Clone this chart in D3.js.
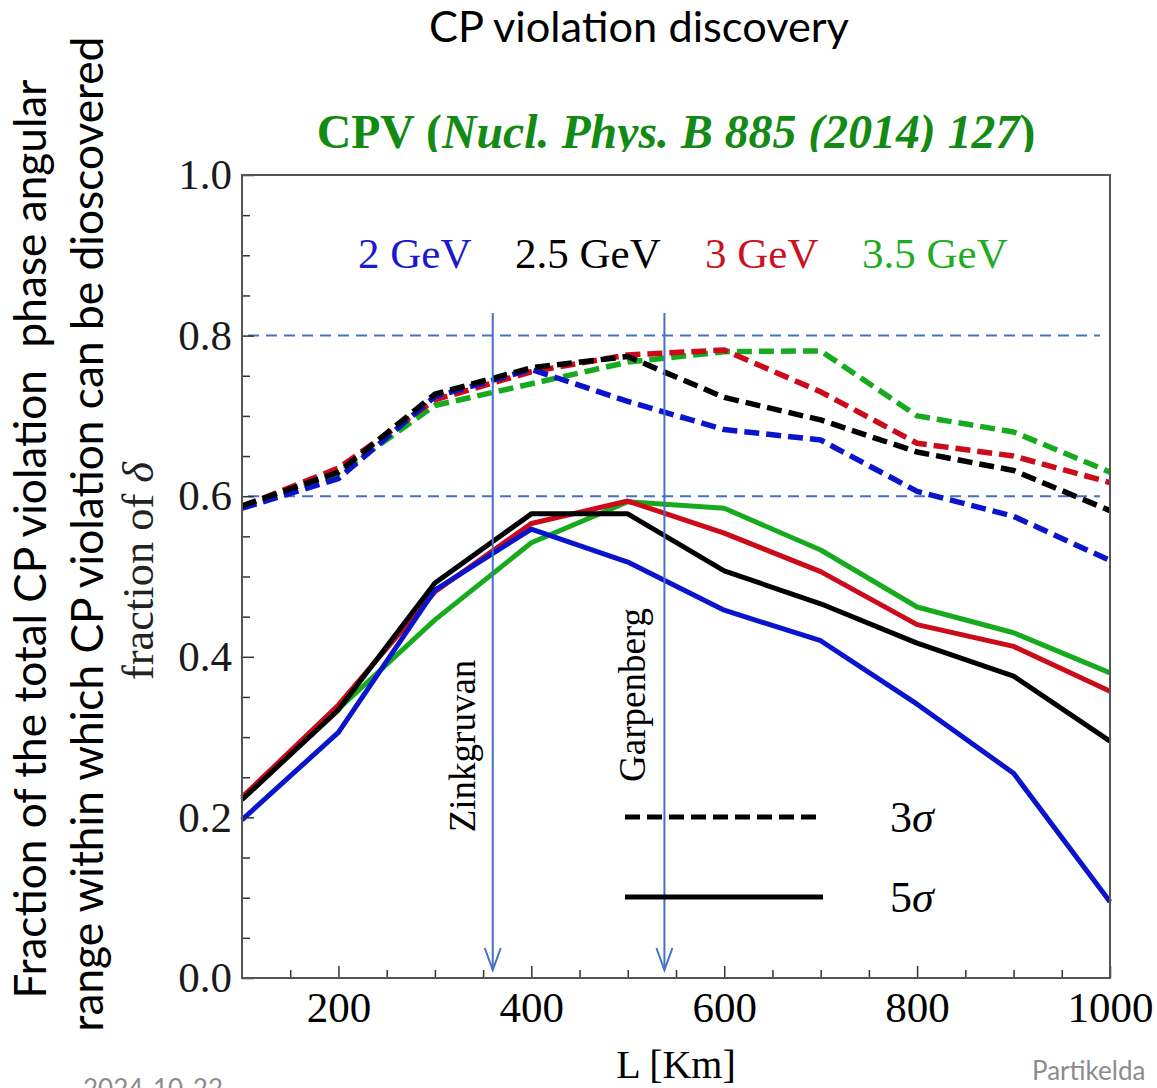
<!DOCTYPE html>
<html>
<head>
<meta charset="utf-8">
<script src="https://cdn.jsdelivr.net/npm/d3@7"></script>
<style>
  body { margin: 0; background: #fff; overflow: hidden; }
  svg { display: block; }
</style>
</head>
<body>
<div id="chart"></div>
<script>
// baseline length L in km
const distances = [100, 200, 300, 400, 500, 600, 700, 800, 900, 1000];

// energy labels of the curves
const energies = ["2 GeV", "2.5 GeV", "3 GeV", "3.5 GeV"];

// fraction of delta, 3 sigma (dashed)
const sig3_2GeV  = [0.585, 0.622, 0.724, 0.758, 0.718, 0.683, 0.670, 0.606, 0.575, 0.520];
const sig3_25GeV = [0.588, 0.630, 0.727, 0.760, 0.774, 0.723, 0.695, 0.655, 0.632, 0.582];
const sig3_3GeV  = [0.587, 0.635, 0.720, 0.755, 0.776, 0.782, 0.730, 0.666, 0.650, 0.617];
const sig3_35GeV = [0.585, 0.628, 0.713, 0.740, 0.767, 0.780, 0.781, 0.700, 0.680, 0.630];

// fraction of delta, 5 sigma (solid)
const sig5_2GeV  = [0.197, 0.306, 0.483, 0.559, 0.518, 0.458, 0.420, 0.341, 0.255, 0.095];
const sig5_25GeV = [0.222, 0.334, 0.492, 0.578, 0.578, 0.507, 0.466, 0.417, 0.376, 0.295];
const sig5_3GeV  = [0.225, 0.340, 0.481, 0.566, 0.594, 0.554, 0.506, 0.440, 0.413, 0.357];
const sig5_35GeV = [0.225, 0.335, 0.446, 0.542, 0.593, 0.585, 0.533, 0.462, 0.430, 0.380];

// reference levels and mine sites
const refLevels = [0.6, 0.8];
const sites = ["Zinkgruvan", "Garpenberg"];
const siteDistances = [360, 538];

// axis ticks
const yMajor = [0, 0.2, 0.4, 0.6, 0.8, 1.0];
const xMajor = [200, 400, 600, 800, 1000];

const width = 1157, height = 1088;
const colors = ["#0a14cc", "#000000", "#cc0a1a", "#18aa1e"];
const textColors = ["#1a1acc", "#000000", "#cc1020", "#22aa22"];

const svg = d3.select("#chart").append("svg")
    .attr("width", width)
    .attr("height", height);

const x = d3.scaleLinear().domain([100, 1000]).range([242, 1110]);
const y = d3.scaleLinear().domain([0, 1]).range([978, 175]);

const serif = "'Liberation Serif', 'Times New Roman', serif";
const sans = "Lato, 'Open Sans', sans-serif";

// scale a text's font size so that it spans a given length
function fit(sel, target) {
  const len = sel.node().getComputedTextLength();
  const fs = parseFloat(sel.attr("font-size"));
  sel.attr("font-size", fs * target / len);
}

// titles
const t1 = svg.append("text")
    .attr("x", 639).attr("y", 42)
    .attr("text-anchor", "middle")
    .attr("font-family", sans).attr("font-size", 36)
    .text("CP violation discovery");
fit(t1, 420);

svg.append("clipPath").attr("id", "titleClip")
  .append("rect").attr("x", 0).attr("y", 0).attr("width", width).attr("height", 152);

const t2 = svg.append("text")
    .attr("clip-path", "url(#titleClip)")
    .attr("x", 676).attr("y", 148)
    .attr("text-anchor", "middle")
    .attr("font-family", serif).attr("font-size", 44)
    .attr("font-weight", "bold")
    .attr("fill", "#138a13");
t2.append("tspan").text("CPV (");
t2.append("tspan").attr("font-style", "italic").text("Nucl. Phys. B 885 (2014) 127");
t2.append("tspan").text(")");
fit(t2, 719);

// left side labels (slide text)
const leftLines = [
  { text: "Fraction of the total CP violation  phase angular", x: 46, cy: 539, len: 919 },
  { text: "range within which CP violation can be dioscovered", x: 103, cy: 534, len: 995 }
];
leftLines.forEach(d => {
  const t = svg.append("text")
      .attr("transform", `translate(${d.x},${d.cy}) rotate(-90)`)
      .attr("text-anchor", "middle")
      .attr("font-family", sans).attr("font-size", 42)
      .attr("fill", "#000")
      .style("white-space", "pre")
      .text(d.text);
  fit(t, d.len);
});

// reference dashed lines
svg.append("g").selectAll("line")
  .data(refLevels)
  .join("line")
    .attr("x1", x(100) + 6).attr("x2", x(1000) - 10)
    .attr("y1", d => y(d)).attr("y2", d => y(d))
    .attr("stroke", "#4472c4").attr("stroke-width", 2)
    .attr("stroke-dasharray", "11,7");

// curves
const line = d3.line()
    .x((d, i) => x(distances[i]))
    .y(d => y(d));

const dashed = [sig3_2GeV, sig3_25GeV, sig3_3GeV, sig3_35GeV];
const solid = [sig5_2GeV, sig5_25GeV, sig5_3GeV, sig5_35GeV];
const drawOrder = [3, 2, 0, 1];

const curves = svg.append("g").attr("fill", "none").attr("stroke-linejoin", "round");
drawOrder.forEach(i => {
  curves.append("path")
      .attr("d", line(dashed[i]))
      .attr("stroke", colors[i]).attr("stroke-width", 5.5)
      .attr("stroke-dasharray", "15,7");
});
drawOrder.forEach(i => {
  curves.append("path")
      .attr("d", line(solid[i]))
      .attr("stroke", colors[i]).attr("stroke-width", 5);
});

// mine site arrows
const arrows = svg.append("g").attr("stroke", "#4472c4").attr("stroke-width", 2).attr("fill", "none");
siteDistances.forEach(s => {
  arrows.append("line")
      .attr("x1", x(s)).attr("x2", x(s))
      .attr("y1", 313).attr("y2", 970);
  arrows.append("path")
      .attr("d", `M${x(s) - 8},948 L${x(s)},970 L${x(s) + 8},948`);
});
const siteLabel = [{ bx: 475, cy: 746 }, { bx: 645, cy: 695 }];
sites.forEach((s, i) => {
  svg.append("text")
      .attr("transform", `translate(${siteLabel[i].bx},${siteLabel[i].cy}) rotate(-90)`)
      .attr("text-anchor", "middle")
      .attr("font-family", serif).attr("font-size", 37)
      .text(s);
});

// energy legend
const legendX = [358, 515, 705, 862];
energies.forEach((e, i) => {
  svg.append("text")
      .attr("x", legendX[i]).attr("y", 268)
      .attr("font-family", serif).attr("font-size", 43)
      .attr("fill", textColors[i])
      .text(e);
});

// sigma legend
const sigmaLegend = [
  { y: 817, dash: "15,7", label: "3" },
  { y: 897, dash: null, label: "5" }
];
sigmaLegend.forEach(d => {
  svg.append("line")
      .attr("x1", 625).attr("x2", 823)
      .attr("y1", d.y).attr("y2", d.y)
      .attr("stroke", "#000").attr("stroke-width", 5)
      .attr("stroke-dasharray", d.dash);
  const t = svg.append("text")
      .attr("x", 890).attr("y", d.y + 15)
      .attr("font-family", serif).attr("font-size", 44);
  t.append("tspan").text(d.label);
  t.append("tspan").attr("font-style", "italic").text("σ");
});

// axes
const xMinor = d3.range(150, 1000, 50).filter(v => !xMajor.includes(v));
const yMinor = d3.range(0.05, 1, 0.05).filter(v => !yMajor.some(m => Math.abs(m - v) < 1e-6));

svg.append("g")
    .attr("transform", `translate(0,${y(0)})`)
    .call(d3.axisBottom(x).tickValues(xMajor).tickSize(-12).tickPadding(13).tickFormat(d3.format("d")));
svg.append("g")
    .attr("transform", `translate(0,${y(0)})`)
    .call(d3.axisBottom(x).tickValues(xMinor).tickSize(-8).tickFormat(""));

const yAxis = svg.append("g")
    .attr("transform", `translate(${x(100)},0)`)
    .call(d3.axisLeft(y).tickValues(yMajor).tickSize(-12).tickPadding(10).tickFormat(d3.format(".1f")));
svg.append("g")
    .attr("transform", `translate(${x(100)},0)`)
    .call(d3.axisLeft(y).tickValues(yMinor).tickSize(-8).tickFormat(""));

svg.selectAll(".domain").remove();
svg.selectAll(".tick line").attr("stroke", "#333").attr("stroke-width", 1.5);
svg.selectAll(".tick text")
    .attr("font-family", serif).attr("font-size", 43).attr("fill", "#000");
yAxis.selectAll(".tick text").attr("fill", "#1a1a1a");

// frame
svg.append("rect")
    .attr("x", x(100)).attr("y", y(1))
    .attr("width", x(1000) - x(100)).attr("height", y(0) - y(1))
    .attr("fill", "none").attr("stroke", "#555").attr("stroke-width", 2);

// axis titles
svg.append("text")
    .attr("x", 676).attr("y", 1078)
    .attr("text-anchor", "middle")
    .attr("font-family", serif).attr("font-size", 40)
    .text("L [Km]");

const yl = svg.append("text")
    .attr("transform", "translate(153,571) rotate(-90)")
    .attr("text-anchor", "middle")
    .attr("font-family", serif).attr("font-size", 36)
    .attr("fill", "#222");
yl.append("tspan").text("fraction of ");
yl.append("tspan").attr("font-style", "italic").text("δ");
fit(yl, 218);

// slide footer
svg.append("text")
    .attr("x", 83).attr("y", 1098)
    .attr("font-family", sans).attr("font-size", 26)
    .attr("fill", "#8c8c8c")
    .text("2024-10-22");
svg.append("text")
    .attr("x", 1032).attr("y", 1080)
    .attr("font-family", sans).attr("font-size", 26)
    .attr("fill", "#8c8c8c")
    .text("Partikelda");
</script>
</body>
</html>
